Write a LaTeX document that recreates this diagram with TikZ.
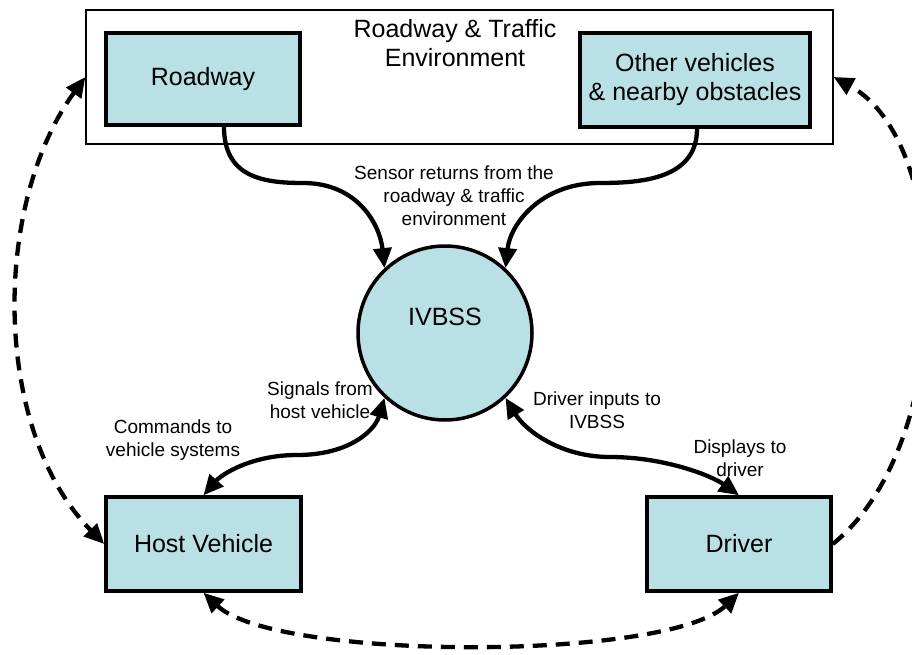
\documentclass[tikz,border=0pt]{standalone}
\usepackage{fontspec}
\setmainfont{Liberation Sans}
\usetikzlibrary{arrows.meta}
\definecolor{boxfill}{RGB}{185,224,228}
\begin{document}
\begin{tikzpicture}[x=1pt,y=-1pt,
  bigfont/.style={font=\fontsize{25}{29}\selectfont},
  smallfont/.style={font=\fontsize{19}{23}\selectfont},
  entity/.style={draw=black, line width=3.5pt, fill=boxfill, inner sep=0pt, bigfont, align=center},
  envbox/.style={draw=black, line width=1.2pt, fill=white, inner sep=0pt},
  tip/.tip={Triangle[length=20pt,width=18pt]},
  flow/.style={line width=4.3pt, -tip},
  bflow/.style={line width=4.3pt, tip-tip},
  dflow/.style={line width=4.3pt, dash pattern=on 14pt off 9pt},
  lbl/.style={smallfont, align=center, inner sep=0pt}
]
\useasboundingbox (0,0) rectangle (912,655);
\clip (0,0) rectangle (912,655);
\fill[white] (0,0) rectangle (912,655);

% environment
\node[envbox, minimum width=747pt, minimum height=134pt] (env) at (459.5,77) {};
\node[bigfont, align=center, inner sep=0pt] (envtitle) at (455,43) {Roadway \& Traffic\\Environment};
\node[entity, minimum width=194pt, minimum height=92pt] (roadway) at (203,79) {Roadway};
\node[entity, minimum width=230pt, minimum height=94pt] (other) at (695,80) {Other vehicles\\\& nearby obstacles};

% IVBSS
\node[circle, draw=black, line width=3.5pt, fill=boxfill, minimum size=174pt, inner sep=0pt,
      label={[bigfont, yshift=16pt]center:IVBSS}] (ivbss) at (445,333) {};

% host and driver
\node[entity, minimum width=195pt, minimum height=94pt] (host) at (203.5,544) {Host Vehicle};
\node[entity, minimum width=184pt, minimum height=94pt] (driver) at (739,544) {Driver};

% sensor flows
\draw[flow] ([xshift=21pt]roadway.south) .. controls +(0,50) and (262,183) .. (303,183)
            .. controls (358,183) and (380,225) .. (ivbss.133);
\draw[flow] ([xshift=2pt]other.south) .. controls +(0,50) and (642,183) .. (600,183)
            .. controls (540,183) and (510,225) .. (ivbss.47);

% host vehicle flows
\draw[bflow] (host.north) .. controls (222,474) and (252,455) .. (297,455)
             .. controls (350,455) and (375,430) .. (ivbss.227);
% driver flows
\draw[bflow] (ivbss.313) .. controls (525,430) and (560,457) .. (610,457)
             .. controls (665,457) and (712,476) .. (driver.north);

% dashed loops
\draw[dflow, tip-tip] (env.west) .. controls (-8,205) and (-8,430) .. (host.west);
\draw[dflow, -tip] (driver.east) .. controls (956,445) and (956,144) .. (env.east);
\draw[dflow, tip-tip] (host.south) .. controls (276,661) and (668,661) .. (driver.south);

% labels
\node[lbl] (sensorlbl) at (454,196) {Sensor returns from the\\roadway \& traffic\\environment};
\node[lbl] (signalslbl) at (320,400) {Signals from\\host vehicle};
\node[lbl] (commandslbl) at (173,440) {Commands to\\vehicle systems};
\node[lbl] (inputslbl) at (597,410) {Driver inputs to\\IVBSS};
\node[lbl] (displayslbl) at (740,458) {Displays to\\driver};
\end{tikzpicture}
\end{document}
